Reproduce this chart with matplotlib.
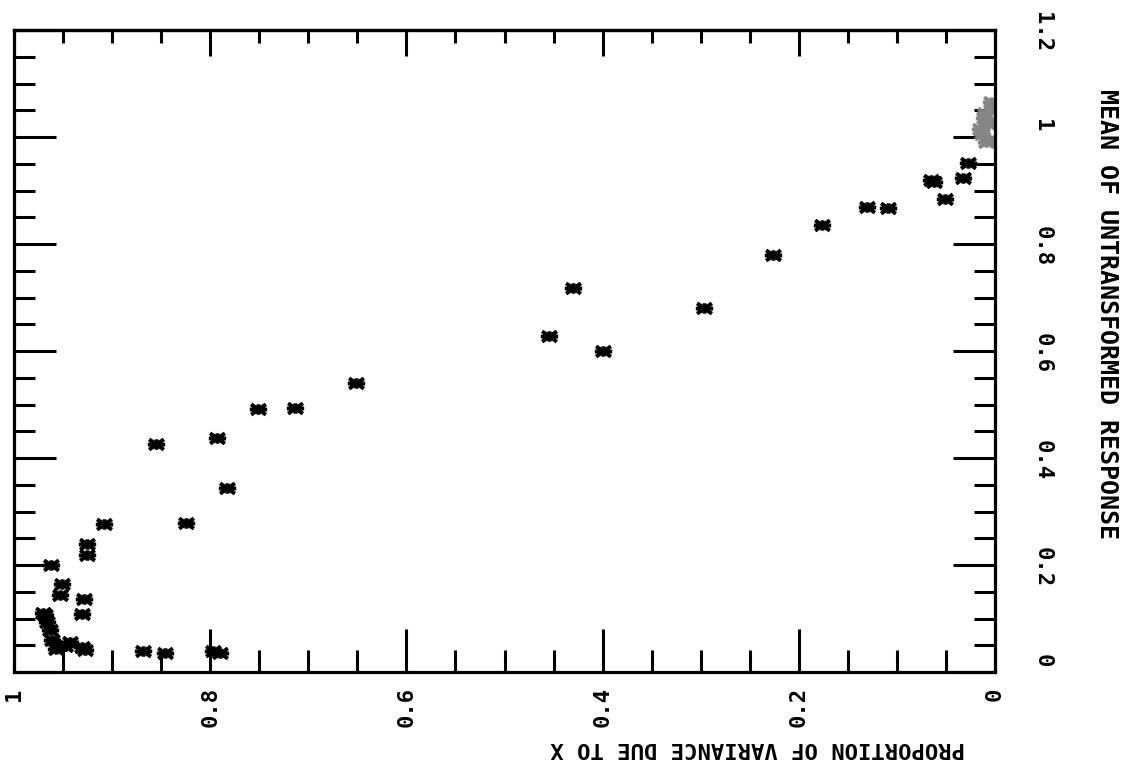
import matplotlib
matplotlib.use("Agg")
import matplotlib.pyplot as plt
from matplotlib.path import Path
from matplotlib.ticker import MultipleLocator
from matplotlib.transforms import ScaledTranslation

# Data: proportion of variance due to X (x), mean of untransformed response (y)
prop_var = [0.028, 0.033, 0.065, 0.062, 0.051, 0.130, 0.109, 0.176, 0.226, 0.297,
            0.430, 0.400, 0.455, 0.651, 0.714, 0.751, 0.855, 0.793, 0.783, 0.825,
            0.908, 0.926, 0.926, 0.962, 0.951, 0.953, 0.929, 0.931, 0.968, 0.966,
            0.963, 0.961, 0.953, 0.943, 0.957, 0.931, 0.928, 0.868, 0.846, 0.797,
            0.790, 0.970, 0.948]
mean_resp = [0.951, 0.923, 0.919, 0.916, 0.884, 0.869, 0.867, 0.835, 0.779, 0.681,
             0.717, 0.600, 0.628, 0.540, 0.493, 0.492, 0.426, 0.437, 0.343, 0.278,
             0.276, 0.240, 0.218, 0.200, 0.165, 0.143, 0.137, 0.109, 0.107, 0.094,
             0.079, 0.060, 0.051, 0.056, 0.043, 0.047, 0.041, 0.039, 0.036, 0.039,
             0.036, 0.110, 0.048]

# dense cluster near (0, 1)
cluster_prop = [0.004, 0.010, 0.007, 0.013, 0.009, 0.003, 0.015, 0.006, 0.011]
cluster_mean = [1.065, 1.045, 1.025, 1.005, 0.990, 1.055, 1.015, 0.995, 1.035]

x_ticks = [1, 0.8, 0.6, 0.4, 0.2, 0]
x_ticklabels = ["1", "0.8", "0.6", "0.4", "0.2", "0"]
y_ticks = [0, 0.2, 0.4, 0.6, 0.8, 1.0, 1.2]
y_ticklabels = ["0", "0.2", "0.4", "0.6", "0.8", "1", "1.2"]

font = "DejaVu Sans Mono"

# plotter-style asterisk marker (8 arms, squashed)
verts = [(-1, 0), (1, 0), (0, -0.6), (0, 0.6),
         (-0.85, -0.6), (0.85, 0.6), (-0.85, 0.6), (0.85, -0.6)]
codes = [Path.MOVETO, Path.LINETO] * 4
star = Path(verts, codes)

fig = plt.figure(figsize=(11.25, 7.72), dpi=100)
ax = fig.add_axes([14 / 1125, 1 - 672 / 772, (995 - 14) / 1125, (672 - 30) / 772])

mk = dict(linestyle="none", marker=star, markersize=12.5, markeredgewidth=2.8,
          solid_capstyle="round", solid_joinstyle="round")
ax.plot(cluster_prop, cluster_mean, color="#858585", **mk)
ax.plot(prop_var, mean_resp, color="black", **mk)

ax.set_xlim(1, 0)
ax.set_ylim(0, 1.2)

for s in ax.spines.values():
    s.set_linewidth(2.3)

ax.set_xticks(x_ticks)
ax.set_xticklabels(x_ticklabels, fontfamily=font, fontweight="bold", fontsize=16)
ax.xaxis.set_minor_locator(MultipleLocator(0.05))
ax.set_yticks(y_ticks)
ax.set_yticklabels(y_ticklabels, fontfamily=font, fontweight="bold", fontsize=16)
ax.yaxis.set_minor_locator(MultipleLocator(0.05))

ax.tick_params(axis="x", which="both", direction="in", top=False, bottom=True,
               width=2.2, labelrotation=90, pad=11)
ax.tick_params(axis="x", which="major", length=31)
ax.tick_params(axis="x", which="minor", length=16)
ax.tick_params(axis="y", which="both", direction="in", left=True, right=True,
               labelleft=False, labelright=True, width=2.2, labelrotation=-90, pad=27)
ax.tick_params(axis="y", which="major", length=30)
ax.tick_params(axis="y", which="minor", length=15)
for lab in ax.get_xticklabels():
    lab.set_va("top")

# shorter ticks along the top edge
top = ax.secondary_xaxis("top")
top.set_xticks(x_ticks)
top.xaxis.set_minor_locator(MultipleLocator(0.05))
top.tick_params(axis="x", which="both", direction="in", width=2.2, labeltop=False)
top.tick_params(axis="x", which="major", length=19)
top.tick_params(axis="x", which="minor", length=9)
top.spines["top"].set_linewidth(2.3)

# right-hand labels sit slightly above their ticks
shift = ScaledTranslation(0, 7 / 72, fig.dpi_scale_trans)
for t in ax.yaxis.get_major_ticks():
    t.label2.set_transform(t.label2.get_transform() + shift)

fig.text(758 / 1125, 1 - 748 / 772, "PROPORTION OF VARIANCE DUE TO X", rotation=180,
         ha="center", va="center", fontfamily=font, fontweight="bold", fontsize=16)
fig.text(1107 / 1125, 1 - 314 / 772, "MEAN OF UNTRANSFORMED RESPONSE", rotation=-90,
         ha="center", va="center", fontfamily=font, fontweight="bold", fontsize=18)

fig.savefig("out.png", dpi=100, facecolor="white")
